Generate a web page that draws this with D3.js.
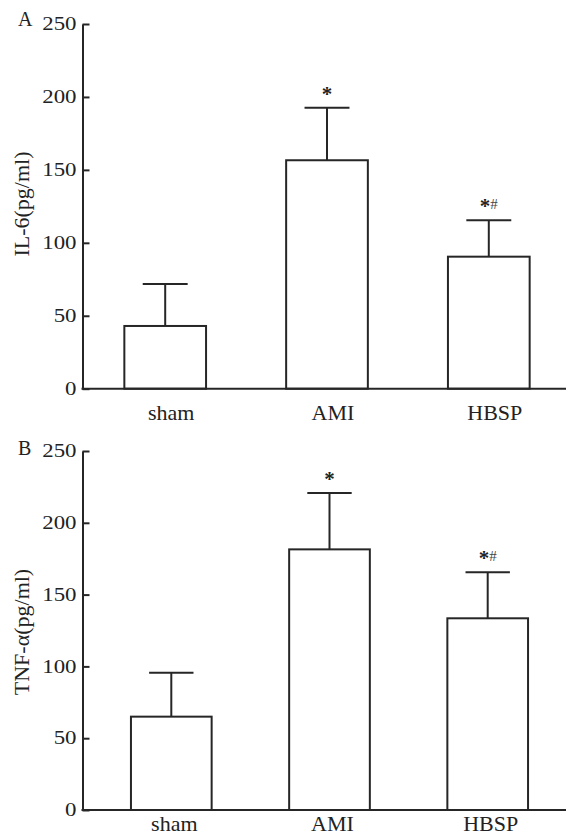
<!DOCTYPE html>
<html>
<head>
<meta charset="utf-8">
<script src="https://cdn.jsdelivr.net/npm/d3@7/dist/d3.min.js"></script>
<style>
  body { margin: 0; background: #fff; }
  svg text { font-family: "Liberation Serif", "Times New Roman", serif; fill: #222; }
</style>
</head>
<body>
<script>
// data
var groups = ["sham", "AMI", "HBSP"];
var yTicks = [0, 50, 100, 150, 200, 250];

var il6Mean = [43, 156.6, 90.5];
var il6Sd = [28.8, 36, 25];
var il6Marks = ["", "*", "*#"];

var tnfMean = [65, 181.5, 133.5];
var tnfSd = [30.6, 39.3, 32];
var tnfMarks = ["", "*", "*#"];

var W = 566, H = 836, ink = "#262626";

var svg = d3.select("body").append("svg")
  .attr("width", W)
  .attr("height", H);

// panel layout (pixels)
var panels = [
  {letter: "A", label: "IL-6(pg/ml)", mean: il6Mean, sd: il6Sd, marks: il6Marks,
   top: 24, bottom: 388.7, x0: 84.3, x1: 569.7, pad: 0.495, labelDx: 6, labelDy: 31.5, ylabY: 204, letterY: 26},
  {letter: "B", label: "TNF-\u03b1(pg/ml)", mean: tnfMean, sd: tnfSd, marks: tnfMarks,
   top: 451, bottom: 810, x0: 92.2, x1: 566.8, pad: 0.49, labelDx: 3, labelDy: 20.5, ylabY: 632, letterY: 455}
];

var axisX = 82.5;

panels.forEach(function (p) {
  var g = svg.append("g");

  var y = d3.scaleLinear().domain([0, 250]).range([p.bottom, p.top]);
  var x = d3.scaleBand().domain(groups).range([p.x0, p.x1])
    .paddingInner(p.pad).paddingOuter(p.pad / 2);

  var rows = groups.map(function (d, i) {
    return {name: d, mean: p.mean[i], sd: p.sd[i], mark: p.marks[i]};
  });

  // bars
  g.selectAll("rect.bar").data(rows).enter().append("rect")
    .attr("class", "bar")
    .attr("x", function (d) { return x(d.name); })
    .attr("y", function (d) { return y(d.mean); })
    .attr("width", x.bandwidth())
    .attr("height", function (d) { return y(0) - y(d.mean); })
    .attr("fill", "#fff")
    .attr("stroke", ink)
    .attr("stroke-width", 2);

  // error bars (upper only)
  var cx = function (d) { return x(d.name) + x.bandwidth() / 2; };
  var cap = x.bandwidth() * 0.55;
  g.selectAll("line.err").data(rows).enter().append("line")
    .attr("x1", cx).attr("x2", cx)
    .attr("y1", function (d) { return y(d.mean); })
    .attr("y2", function (d) { return y(d.mean + d.sd); })
    .attr("stroke", ink).attr("stroke-width", 2);
  g.selectAll("line.cap").data(rows).enter().append("line")
    .attr("x1", function (d) { return cx(d) - cap / 2; })
    .attr("x2", function (d) { return cx(d) + cap / 2; })
    .attr("y1", function (d) { return y(d.mean + d.sd); })
    .attr("y2", function (d) { return y(d.mean + d.sd); })
    .attr("stroke", ink).attr("stroke-width", 2);

  // significance marks
  var mk = g.selectAll("text.mark").data(rows.filter(function (d) { return d.mark; }))
    .enter().append("text")
    .attr("text-anchor", "middle")
    .attr("x", cx)
    .attr("y", function (d) { return y(d.mean + d.sd) - 7; });
  mk.append("tspan").attr("font-size", 21).attr("font-weight", "bold").text("*");
  mk.append("tspan").attr("font-size", 15).attr("dy", -4).attr("fill", "#444")
    .text(function (d) { return d.mark.slice(1); });

  // y axis
  var ya = g.append("g")
    .attr("transform", "translate(" + axisX + ",0)")
    .call(d3.axisLeft(y).tickValues(yTicks).tickSizeInner(-7).tickSizeOuter(0));
  ya.select(".domain").attr("stroke", ink).attr("stroke-width", 2);
  ya.selectAll(".tick line").attr("stroke", ink).attr("stroke-width", 2);
  ya.selectAll(".tick text")
    .attr("x", 0)
    .attr("font-size", 18)
    .attr("transform", "translate(-6,0) scale(1.27,1)")
    .style("fill", "#222");

  // x axis: plain baseline plus category labels
  g.append("line")
    .attr("x1", axisX - 1).attr("x2", W)
    .attr("y1", y(0)).attr("y2", y(0))
    .attr("stroke", ink).attr("stroke-width", 2);
  var xa = g.append("g")
    .attr("transform", "translate(0," + y(0) + ")")
    .call(d3.axisBottom(x).tickSize(0));
  xa.select(".domain").remove();
  xa.selectAll(".tick text")
    .attr("font-size", 22)
    .attr("dx", p.labelDx)
    .attr("dy", 0)
    .attr("y", p.labelDy)
    .style("fill", "#222");

  // y label
  g.append("text")
    .attr("transform", "translate(28.5," + p.ylabY + ") rotate(-90)")
    .attr("text-anchor", "middle")
    .attr("font-size", 22)
    .text(p.label);

  // panel letter
  g.append("text")
    .attr("x", 18)
    .attr("y", p.letterY)
    .attr("font-size", 20)
    .text(p.letter);
});
</script>
</body>
</html>
